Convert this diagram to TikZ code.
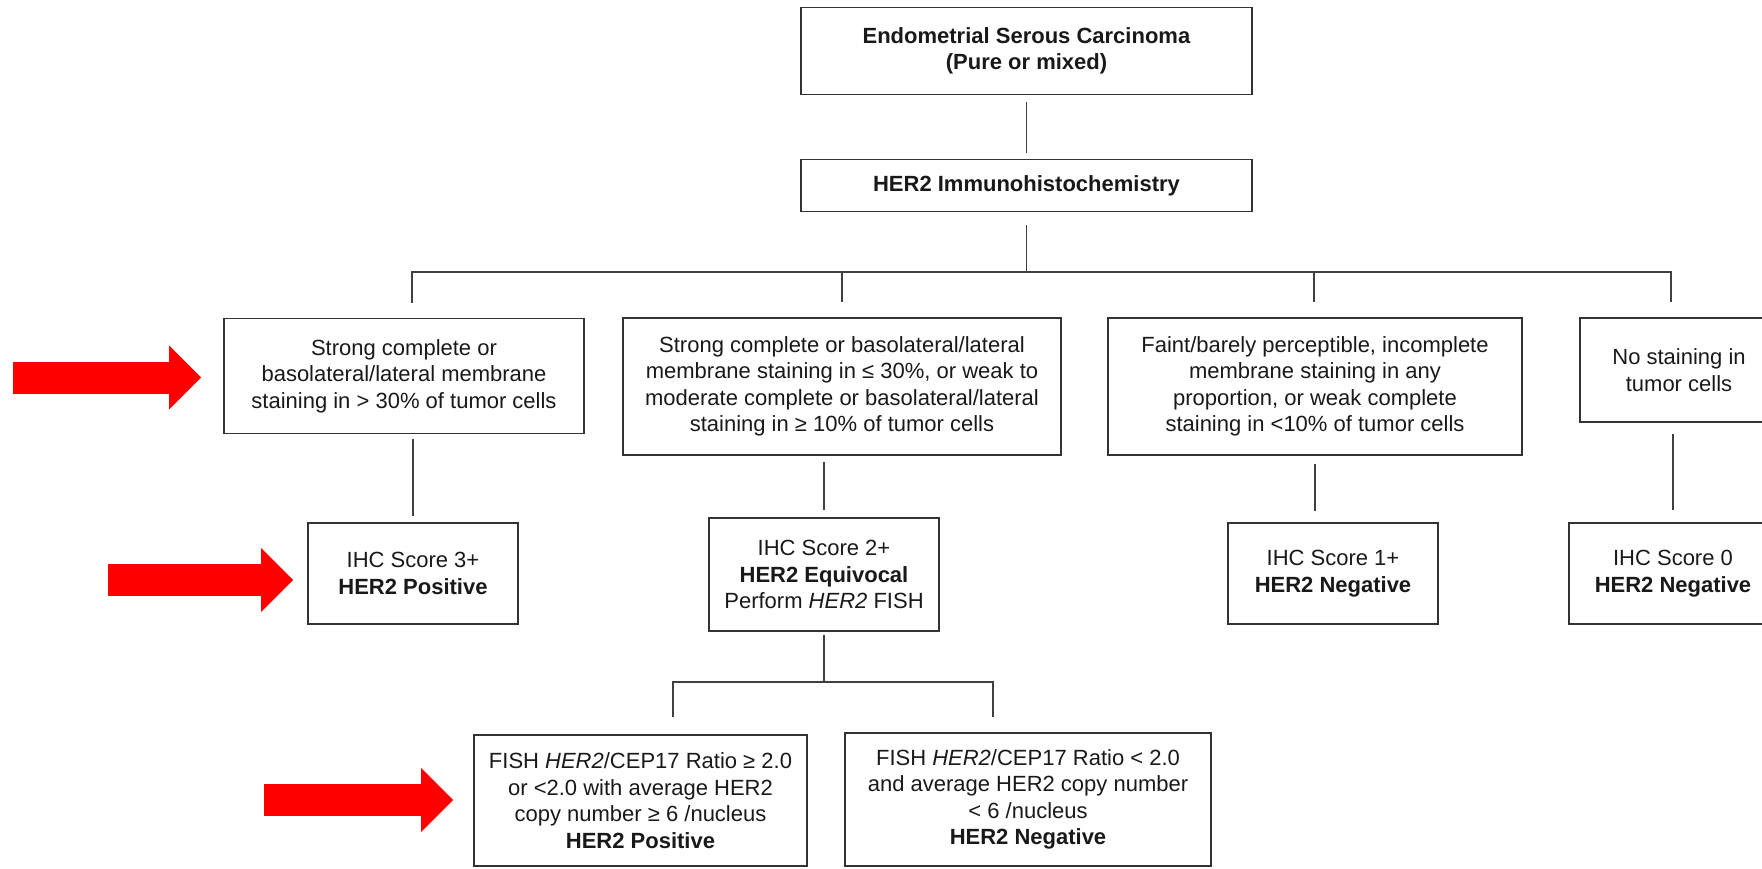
\documentclass[tikz,border=0pt]{standalone}
\usepackage{fontspec}
\setmainfont{Liberation Sans}
\usetikzlibrary{arrows.meta}

\tikzset{
  box/.style={draw=black!80, line width=1.6pt, align=center, inner sep=0pt,
    text=black!90, font=\fontsize{22}{26.5}\selectfont},
  link/.style={draw=black!75, line width=1.5pt},
  redarrow/.style={draw=red, line width=32pt,
    -{Triangle[width=64pt,length=32pt,line width=0pt]}},
}

\begin{document}
\begin{tikzpicture}[x=1pt,y=-1pt]
    \useasboundingbox (0,0) rectangle (1762,868);
    % top of the tree
    \node[box, minimum width=451, minimum height=87] (top) at (1026.5,51)
      {\textbf{Endometrial Serous Carcinoma}\\\textbf{(Pure or mixed)}};
    \node[box, minimum width=451, minimum height=52] (ihc) at (1026.5,185.5)
      {\textbf{HER2 Immunohistochemistry}};
    % staining patterns
    \node[box, minimum width=360, minimum height=115] (stA) at (404,376)
      {Strong complete or\\basolateral/lateral membrane\\staining in > 30\% of tumor cells};
    \node[box, minimum width=438, minimum height=137] (stB) at (842,386.5)
      {Strong complete or basolateral/lateral\\membrane staining in ≤ 30\%, or weak to\\moderate complete or basolateral/lateral\\staining in ≥ 10\% of tumor cells};
    \node[box, minimum width=414, minimum height=137] (stC) at (1315,386.5)
      {Faint/barely perceptible, incomplete\\membrane staining in any\\proportion, or weak complete\\staining in <10\% of tumor cells};
    \node[box, minimum width=198, minimum height=104] (stD) at (1679,370)
      {No staining in\\tumor cells};
    % scores
    \node[box, minimum width=210, minimum height=101] (sc3) at (413,573.5)
      {IHC Score 3+\\\textbf{HER2 Positive}};
    \node[box, minimum width=230, minimum height=113] (sc2) at (824,574.5)
      {IHC Score 2+\\\textbf{HER2 Equivocal}\\Perform \textit{HER2} FISH};
    \node[box, minimum width=210, minimum height=101] (sc1) at (1333,573.5)
      {IHC Score 1+\\\textbf{HER2 Negative}};
    \node[box, minimum width=208, minimum height=101] (sc0) at (1673,573.5)
      {IHC Score 0\\\textbf{HER2 Negative}};
    % FISH results
    \node[box, minimum width=333, minimum height=131] (fpos) at (640.5,800.5)
      {FISH \textit{HER2}/CEP17 Ratio ≥ 2.0\\or <2.0 with average HER2\\copy number ≥ 6 /nucleus\\\textbf{HER2 Positive}};
    \node[box, minimum width=366, minimum height=133] (fneg) at (1028,799.5)
      {FISH \textit{HER2}/CEP17 Ratio < 2.0\\and average HER2 copy number\\< 6 /nucleus\\\textbf{HER2 Negative}};

    % connectors
    \coordinate (bA) at (412,272);
    \coordinate (bB) at (842,272);
    \coordinate (bC) at (1314,272);
    \coordinate (bD) at (1671,272);
    \coordinate (fL) at (673,682);
    \coordinate (fR) at (993,682);
    \draw[link, shorten <=7pt, shorten >=6pt] (top) -- (ihc);
    \draw[link, shorten <=13pt] (ihc.south) -- (ihc.south |- bA);
    \draw[link, shorten <=15pt, shorten >=15pt] (bA |- stA.north) -- (bA) -- (bD) -- (bD |- stD.north);
    \draw[link, shorten >=15pt] (bB) -- (bB |- stB.north);
    \draw[link, shorten >=15pt] (bC) -- (bC |- stC.north);
    \draw[link, shorten <=5pt, shorten >=6pt] (sc3.north |- stA.south) -- (sc3.north);
    \draw[link, shorten <=6pt, shorten >=7pt] (sc2.north |- stB.south) -- (sc2.north);
    \draw[link, shorten <=8pt, shorten >=11pt] (stC.south) -- (stC.south |- sc1.north);
    \draw[link, shorten <=11pt, shorten >=12pt] (sc0.north |- stD.south) -- (sc0.north);
    \draw[link, shorten <=3pt] (sc2.south) -- (sc2.south |- fL);
    \draw[link, shorten <=17pt, shorten >=15pt] (fL |- fpos.north) -- (fL) -- (fR) -- (fR |- fneg.north);

    % red pointers
    \coordinate (p1) at (13,377.5);
    \coordinate (p2) at (108,580);
    \coordinate (p3) at (264,800);
    \draw[redarrow, shorten >=22pt] (p1) -- (p1 -| stA.west);
    \draw[redarrow, shorten >=14pt] (p2) -- (p2 -| sc3.west);
    \draw[redarrow, shorten >=20pt] (p3) -- (p3 -| fpos.west);
\end{tikzpicture}
\end{document}
